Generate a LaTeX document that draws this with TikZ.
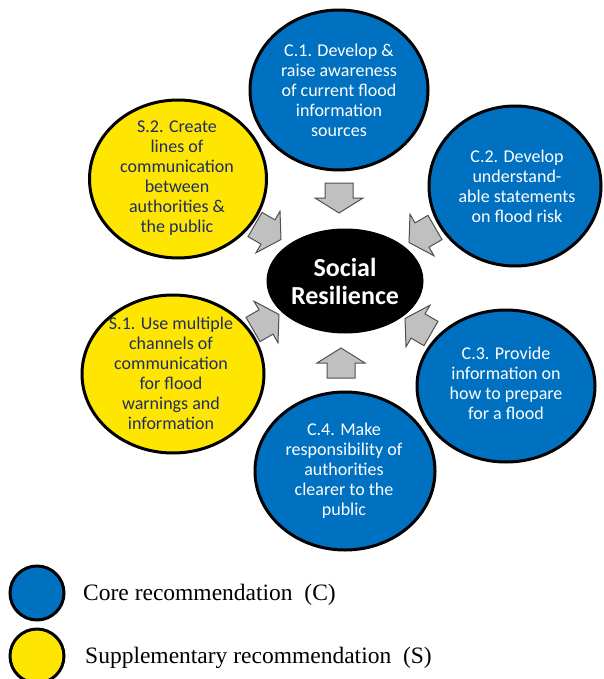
\documentclass[tikz,border=0pt]{standalone}
\usepackage{fontspec}
\setmainfont{Carlito}
\newfontfamily\legendfont{Liberation Serif}
\usetikzlibrary{shapes.geometric}
\definecolor{coreblue}{RGB}{0,112,192}
\definecolor{suppyellow}{RGB}{255,230,0}
\definecolor{navytext}{RGB}{31,45,100}
\definecolor{arrowgray}{RGB}{192,192,192}
\definecolor{arrowline}{RGB}{80,80,80}
\tikzset{
  recbox/.style={ellipse, draw=black, line width=3pt, inner sep=0pt},
  corebox/.style={recbox, fill=coreblue},
  suppbox/.style={recbox, fill=suppyellow},
  coretext/.style={text=white, align=center, inner sep=0pt, font=\fontsize{18}{20}\selectfont},
  supptext/.style={text=navytext, align=center, inner sep=0pt, font=\fontsize{18}{20}\selectfont},
  blockarrow/.style={fill=arrowgray, draw=arrowline, line width=1pt, line join=miter},
  legendtext/.style={anchor=base west, inner sep=0pt, font=\legendfont\fontsize{23.5}{26}\selectfont},
}
\newcommand{\blockarr}[3]{%
  \draw[blockarrow, shift={(#1,#2)}, rotate=#3]
    (-15,-14) -- (0,-14) -- (0,-24) -- (15,0) -- (0,24) -- (0,14) -- (-15,14) -- cycle;}
\begin{document}
\begin{tikzpicture}[x=1pt,y=-1pt]
\useasboundingbox (0,0) rectangle (604,679);
% satellites
\node[corebox, minimum width=178pt, minimum height=160pt] (c1) at (339,90) {};
\node[corebox, minimum width=172pt, minimum height=160pt] (c2) at (515,186) {};
\node[corebox, minimum width=178pt, minimum height=152pt] (c3) at (506,386) {};
\node[corebox, minimum width=180pt, minimum height=158pt] (c4) at (345,471) {};
\node[suppbox, minimum width=182pt, minimum height=158pt] (s1) at (173,374) {};
\node[suppbox, minimum width=177pt, minimum height=158pt] (s2) at (178,179) {};
% texts
\node[coretext] (c1t) at (339,90) {C.1. Develop \&\\raise awareness\\of current flood\\information\\sources};
\node[coretext] (c2t) at (517,186) {C.2. Develop\\understand-\\able statements\\on flood risk};
\node[coretext] (c3t) at (506,383) {C.3. Provide\\information on\\how to prepare\\for a flood};
\node[coretext] (c4t) at (344,471) {C.4. Make\\responsibility of\\authorities\\clearer to the\\public};
\node[supptext] (s1t) at (171,373) {S.1. Use multiple\\channels of\\communication\\for flood\\warnings and\\information};
\node[supptext] (s2t) at (177,178) {S.2. Create\\lines of\\communication\\between\\authorities \&\\the public};
% centre
\node[ellipse, fill=black, draw=black, line width=1pt, minimum width=156pt, minimum height=104pt, inner sep=0pt] (sr) at (345,281) {};
\node[text=white, align=center, inner sep=0pt, font=\bfseries\fontsize{26}{28}\selectfont] (srt) at (345,281) {Social\\Resilience};
% block arrows
\blockarr{339}{198}{-90}
\blockarr{341}{363}{90}
\blockarr{268}{232}{-30}
\blockarr{422}{235}{210}
\blockarr{266}{322}{30}
\blockarr{418}{326}{150}
% legend
\node[corebox, circle, minimum size=54pt] (lc) at (37,593) {};
\node[suppbox, circle, minimum size=54pt] (ls) at (37,656) {};
\node[legendtext] (lct) at (83,600) {Core recommendation\ \ (C)};
\node[legendtext] (lst) at (85,663) {Supplementary recommendation\ \ (S)};
\end{tikzpicture}
\end{document}
